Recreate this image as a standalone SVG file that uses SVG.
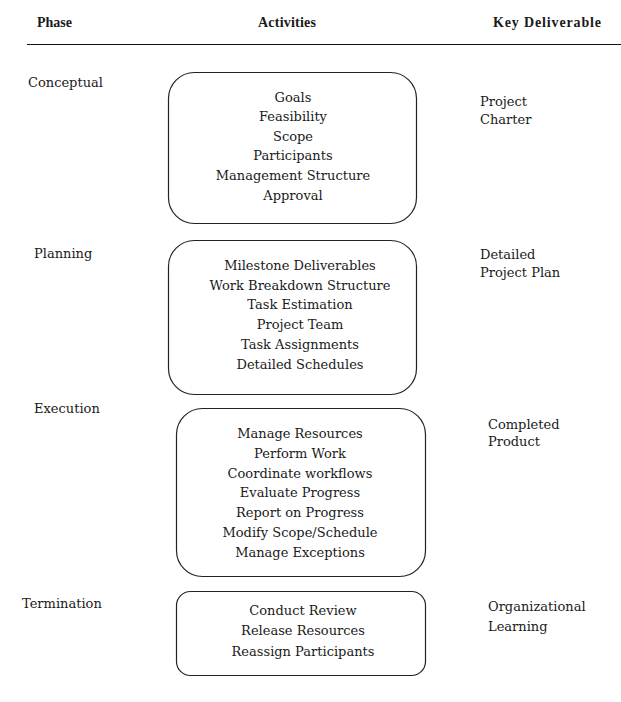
<svg xmlns="http://www.w3.org/2000/svg" width="621" height="702" viewBox="0 0 621 702">
<style>
text{font-family:"DejaVu Serif","Liberation Serif",serif;font-size:13px;fill:#1a1a1a}
.h{font-family:"Liberation Serif","Times New Roman",serif;font-weight:bold;font-size:14px}
.c{text-anchor:middle}
.box{fill:#fff;stroke:#222;stroke-width:1.2}
</style>
<rect width="621" height="702" fill="#fff"/>
<g id="header">
<text class="h" x="37" y="27">Phase</text>
<text class="h" x="258" y="27" textLength="58">Activities</text>
<text class="h" x="493" y="27" textLength="108">Key Deliverable</text>
<line x1="27" y1="44.5" x2="621" y2="44.5" stroke="#111" stroke-width="1.2"/>
</g>
<g id="conceptual">
<text x="28" y="87">Conceptual</text>
<rect class="box" x="168.5" y="72.5" width="248" height="151" rx="26"/>
<text class="c" x="293" y="102">Goals</text>
<text class="c" x="293" y="121">Feasibility</text>
<text class="c" x="293" y="140.5">Scope</text>
<text class="c" x="293" y="160">Participants</text>
<text class="c" x="293" y="180">Management Structure</text>
<text class="c" x="293" y="199.5">Approval</text>
<text x="480" y="106">Project</text>
<text x="480" y="124">Charter</text>
</g>
<g id="planning">
<text x="34" y="258">Planning</text>
<rect class="box" x="168.5" y="240.5" width="248" height="154" rx="26"/>
<text class="c" x="300" y="270">Milestone Deliverables</text>
<text class="c" x="300" y="290">Work Breakdown Structure</text>
<text class="c" x="300" y="309">Task Estimation</text>
<text class="c" x="300" y="329">Project Team</text>
<text class="c" x="300" y="349">Task Assignments</text>
<text class="c" x="300" y="369">Detailed Schedules</text>
<text x="480" y="259">Detailed</text>
<text x="480" y="277">Project Plan</text>
</g>
<g id="execution">
<text x="34" y="413">Execution</text>
<rect class="box" x="176.5" y="408.5" width="249" height="168" rx="26"/>
<text class="c" x="300" y="438">Manage Resources</text>
<text class="c" x="300" y="458">Perform Work</text>
<text class="c" x="300" y="478">Coordinate workflows</text>
<text class="c" x="300" y="497">Evaluate Progress</text>
<text class="c" x="300" y="517">Report on Progress</text>
<text class="c" x="300" y="537">Modify Scope/Schedule</text>
<text class="c" x="300" y="557">Manage Exceptions</text>
<text x="488" y="429">Completed</text>
<text x="488" y="446">Product</text>
</g>
<g id="termination">
<text x="22" y="608">Termination</text>
<rect class="box" x="176.5" y="591.5" width="249" height="84" rx="14"/>
<text class="c" x="303" y="615">Conduct Review</text>
<text class="c" x="303" y="635">Release Resources</text>
<text class="c" x="303" y="656">Reassign Participants</text>
<text x="488" y="611">Organizational</text>
<text x="488" y="631">Learning</text>
</g>
</svg>
